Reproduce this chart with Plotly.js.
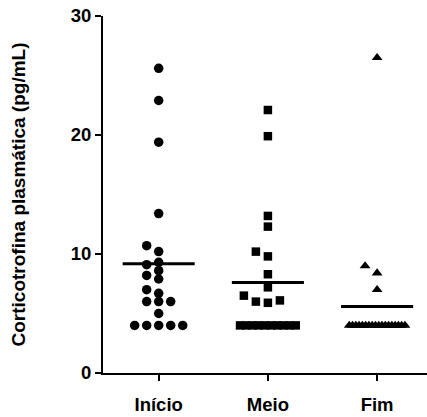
<!DOCTYPE html>
<html>
<head>
<meta charset="utf-8">
<script src="https://cdn.plot.ly/plotly-3.0.1.min.js"></script>
<style>
  html, body { margin: 0; padding: 0; background: #ffffff; }
  #chart { width: 427px; height: 417px; }
</style>
</head>
<body>
<div id="chart"></div>
<script>
// Plasma corticotrophin per sampling moment (pg/mL)
const categories = ['Início', 'Meio', 'Fim'];
const inicio = [25.6, 22.9, 19.4, 13.4, 10.7, 10.2, 9.3, 9.1, 8.6, 8.2, 7.9, 7.0, 6.7,
                6.0, 6.0, 6.0, 5.0, 4.0, 4.0, 4.0, 4.0, 4.0];
const meio = [22.1, 19.9, 13.2, 12.3, 10.2, 9.8, 8.3, 7.2, 6.5, 6.1, 6.0, 5.9,
              4.0, 4.0, 4.0, 4.0, 4.0, 4.0, 4.0, 4.0, 4.0, 4.0];
const fim = [26.5, 9.0, 8.4, 7.0,
             4.0, 4.0, 4.0, 4.0, 4.0, 4.0, 4.0, 4.0, 4.0,
             4.0, 4.0, 4.0, 4.0, 4.0, 4.0, 4.0, 4.0, 4.0];
const yTicks = [0, 10, 20, 30];

const groups = [inicio, meio, fim];
const symbols = ['circle', 'square', 'triangle-up'];
const sizes = [9.5, 8.5, 9.5];

// Column-scatter spreading: nearly equal values share a row and are spread
// sideways in fixed slots; crowded rows are squeezed into a maximum width.
const SLOT = 0.11;      // horizontal slot, in category units
const MAX_HALF = 0.255; // maximum half width of a row
const ROW_GAP = 0.68;   // values closer than this (data units) share a row

function spread(values) {
  const order = values.map((v, i) => i).sort((a, b) => values[a] - values[b]);
  const off = new Array(values.length).fill(0);
  let row = [];
  const flush = () => {
    const n = row.length;
    if (Math.ceil((n - 1) / 2) * SLOT > MAX_HALF) {
      const step = 2 * MAX_HALF / (n - 1);
      row.forEach((k, j) => { off[k] = -MAX_HALF + j * step; });
    } else {
      row.forEach((k, j) => { off[k] = Math.ceil(j / 2) * (j % 2 ? -1 : 1) * SLOT; });
    }
    row = [];
  };
  order.forEach(k => {
    if (row.length && values[k] - values[row[0]] >= ROW_GAP) flush();
    row.push(k);
  });
  if (row.length) flush();
  return off;
}

const mean = arr => arr.reduce((s, v) => s + v, 0) / arr.length;
const HALF_LINE = 0.33;

const traces = [];
groups.forEach((vals, g) => {
  const off = spread(vals);
  traces.push({
    type: 'scatter', mode: 'markers',
    x: vals.map((v, i) => g + off[i]), y: vals,
    marker: { symbol: symbols[g], size: sizes[g], color: '#000000', line: { width: 0 } },
    hoverinfo: 'y', showlegend: false, cliponaxis: false
  });
  const m = mean(vals);
  traces.push({
    type: 'scatter', mode: 'lines',
    x: [g - HALF_LINE, g + HALF_LINE], y: [m, m],
    line: { color: '#000000', width: 3 },
    hoverinfo: 'y', showlegend: false
  });
});

const font = { family: 'Liberation Sans, Arial, sans-serif', size: 18.5, color: '#000000', weight: 'bold' };
const titleFont = { family: 'Liberation Sans, Arial, sans-serif', size: 19, color: '#000000', weight: 'bold' };

const layout = {
  width: 427, height: 417,
  margin: { l: 103, r: 0, t: 16, b: 44 },
  paper_bgcolor: '#ffffff', plot_bgcolor: '#ffffff',
  showlegend: false,
  font: font,
  xaxis: {
    range: [-0.51, 2.457],
    tickmode: 'array', tickvals: [0, 1, 2], ticktext: categories,
    showgrid: false, zeroline: false,
    showline: true, linecolor: '#000000', linewidth: 2,
    ticks: 'outside', ticklen: 6, tickwidth: 2, tickcolor: '#000000',
    ticklabelstandoff: 8,
    tickfont: font, fixedrange: true
  },
  yaxis: {
    range: [0, 30],
    tickmode: 'array', tickvals: yTicks, ticktext: yTicks.map(String),
    showgrid: false, zeroline: false,
    showline: true, linecolor: '#000000', linewidth: 2,
    ticks: 'outside', ticklen: 6, tickwidth: 2, tickcolor: '#000000',
    tickfont: font, fixedrange: true,
    title: { text: 'Corticotrofina plasmática (pg/mL)', font: titleFont, standoff: 40 }
  }
};

Plotly.newPlot('chart', traces, layout, { displayModeBar: false, staticPlot: true });
</script>
</body>
</html>
